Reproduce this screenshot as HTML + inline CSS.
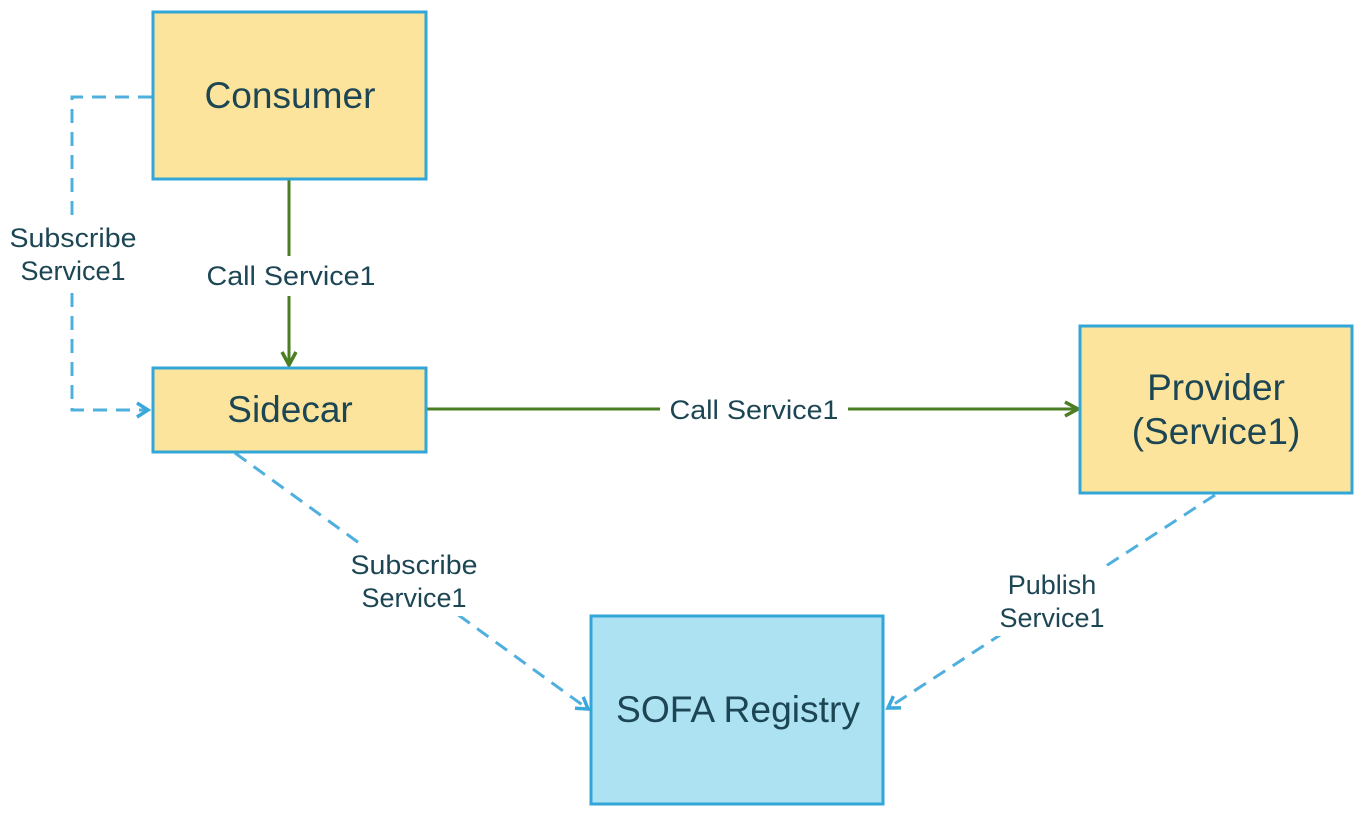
<!DOCTYPE html>
<html><head><meta charset="utf-8"><style>
html,body{margin:0;padding:0;background:#fff;}
svg{display:block;font-family:"Liberation Sans",Arial,sans-serif;}
</style></head><body>
<svg width="1360" height="818" viewBox="0 0 1360 818" xmlns="http://www.w3.org/2000/svg">
<defs>
<marker id="g" markerWidth="18" markerHeight="18" refX="15" refY="9" orient="auto" markerUnits="userSpaceOnUse">
<path d="M2,2 L15,9 L2,16" fill="none" stroke="#4b7d23" stroke-width="3.5"/></marker>
<marker id="b" markerWidth="18" markerHeight="18" refX="14" refY="9" orient="auto" markerUnits="userSpaceOnUse">
<path d="M3,2 L14,9 L3,16" fill="none" stroke="#3aa8db" stroke-width="3.5"/></marker>
</defs>
<g fill="none" stroke="#4fb0de" stroke-width="3" stroke-dasharray="14,9">
<path d="M152,97 L72,97 L72,410 L148,410" marker-end="url(#b)"/>
<path d="M235,453 L588,709" marker-end="url(#b)"/>
<path d="M1215,495 L888,708" marker-end="url(#b)"/>
</g>
<g fill="none" stroke="#4b7d23" stroke-width="3">
<path d="M289,180 L289,365" marker-end="url(#g)"/>
<path d="M427,409 L1078,409" marker-end="url(#g)"/>
</g>
<g stroke="#33a6d8" stroke-width="3">
<rect x="153" y="12" width="273" height="167" fill="#fde49c"/>
<rect x="153" y="368" width="273" height="84" fill="#fde49c"/>
<rect x="1080" y="326" width="272" height="167" fill="#fde49c"/>
<rect x="591" y="616" width="292" height="188" fill="#ade2f3"/>
</g>
<g fill="#1d4654" text-anchor="middle" font-size="37">
<text x="290" y="108" textLength="171" lengthAdjust="spacingAndGlyphs">Consumer</text>
<text x="290" y="422">Sidecar</text>
<text x="1216" y="400">Provider</text>
<text x="1216" y="444">(Service1)</text>
<text x="738" y="722" textLength="244" lengthAdjust="spacingAndGlyphs">SOFA Registry</text>
</g>
<rect x="198" y="256" width="184" height="40" fill="#fff"/>
<rect x="2" y="220" width="140" height="70" fill="#fff"/>
<rect x="660" y="392" width="188" height="34" fill="#fff"/>
<rect x="342" y="546" width="144" height="70" fill="#fff"/>
<rect x="994" y="566" width="118" height="70" fill="#fff"/>
<g fill="#1d4654" text-anchor="middle" font-size="27">
<text x="291" y="285" textLength="169" lengthAdjust="spacingAndGlyphs">Call Service1</text>
<text x="73" y="247" textLength="127" lengthAdjust="spacingAndGlyphs">Subscribe</text>
<text x="73" y="280">Service1</text>
<text x="754" y="419" textLength="169" lengthAdjust="spacingAndGlyphs">Call Service1</text>
<text x="414" y="574" textLength="127" lengthAdjust="spacingAndGlyphs">Subscribe</text>
<text x="414" y="607">Service1</text>
<text x="1052" y="594">Publish</text>
<text x="1052" y="627">Service1</text>
</g>
</svg>
</body></html>
